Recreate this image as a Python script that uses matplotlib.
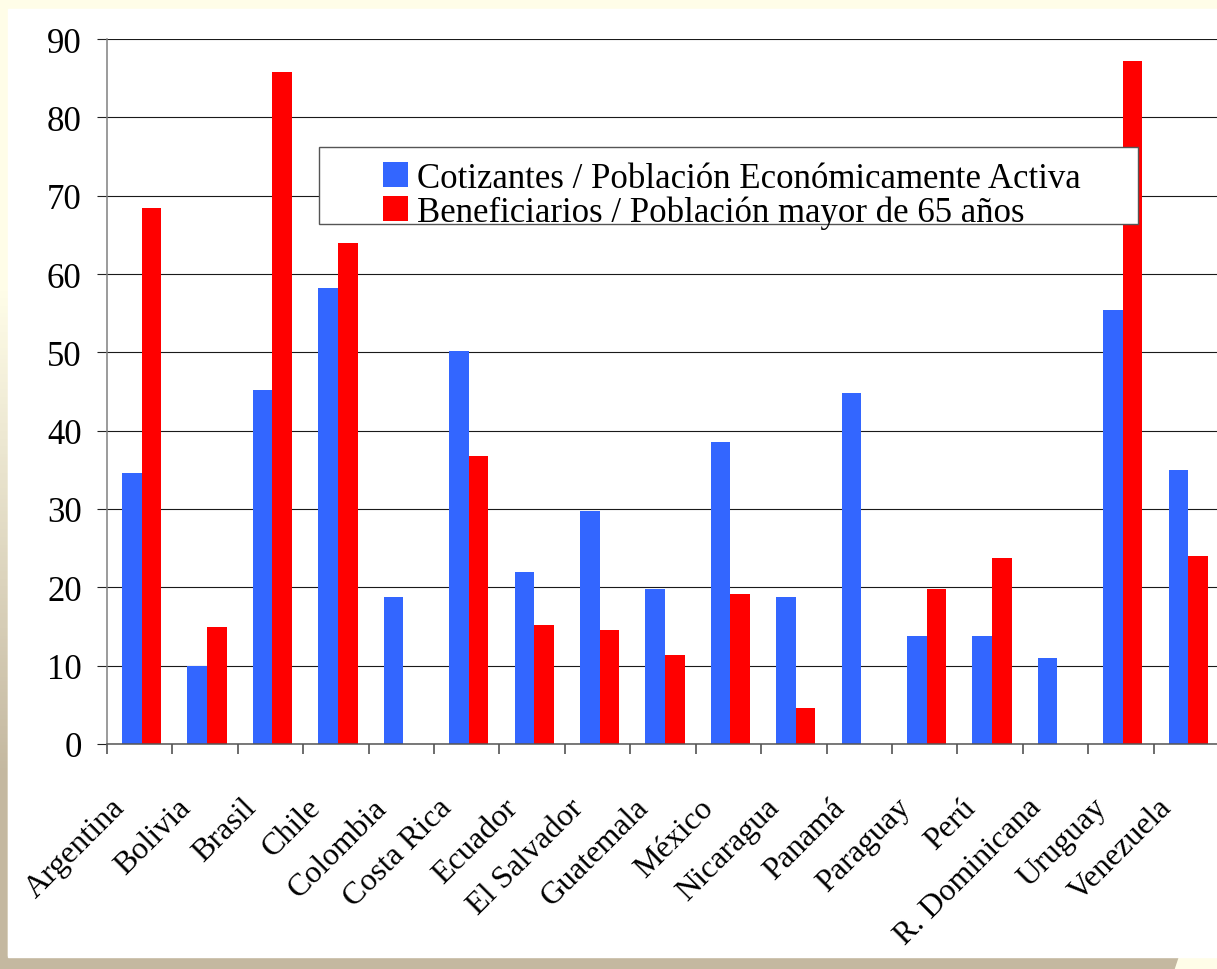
#!/usr/bin/env python3
"""
Cobertura de los sistemas de pensiones en America Latina.

Bar chart comparing contributors over the economically active population
with beneficiaries over the population older than 65 years, per country.
"""

import matplotlib
matplotlib.use("Agg")
import matplotlib.pyplot as plt
import numpy as np
from matplotlib.colors import LinearSegmentedColormap
from matplotlib.patches import Polygon, Rectangle
from matplotlib.transforms import ScaledTranslation

COUNTRIES = [
    "Argentina", "Bolivia", "Brasil", "Chile", "Colombia", "Costa Rica",
    "Ecuador", "El Salvador", "Guatemala", "México", "Nicaragua", "Panamá",
    "Paraguay", "Perú", "R. Dominicana", "Uruguay", "Venezuela",
]
"""Countries on the x axis, in the order of the reference chart."""

COTIZANTES = [
    34.6, 10.0, 45.2, 58.2, 18.8, 50.2, 22.0, 29.7, 19.8,
    38.6, 18.8, 44.8, 13.8, 13.8, 11.0, 55.4, 35.0,
]
"""Cotizantes / Poblacion Economicamente Activa (%)."""

BENEFICIARIOS = [
    68.4, 14.9, 85.8, 64.0, None, 36.8, 15.2, 14.6, 11.4,
    19.1, 4.6, None, 19.8, 23.7, None, 87.2, 24.0,
]
"""Beneficiarios / Poblacion mayor de 65 anos (%), None where no data."""

SERIES_LABELS = [
    "Cotizantes / Población Económicamente Activa",
    "Beneficiarios / Población mayor de 65 años",
]
Y_TICKS = list(range(0, 91, 10))

W, H = 1217, 970
BLUE = "#3366FF"
RED = "#FF0000"
CREAM = "#FFFDE8"
TAN = "#C4B8A0"
FONT = ["Liberation Serif", "DejaVu Serif"]


def main():
    """Build the figure and save it as out.png."""
    fig = plt.figure(figsize=(W / 100, H / 100), dpi=100)
    draw_background(fig)
    draw_bars(fig)
    fig.savefig("out.png", dpi=100)


def draw_background(fig):
    """Slide style background: cream, tan bands and a white panel."""
    bg = fig.add_axes([0, 0, 1, 1], zorder=-10)
    bg.axis("off")

    #   Left strip fades from cream to tan.
    cmap = LinearSegmentedColormap.from_list(
        "strip", [(0, CREAM), (0.3, CREAM), (0.8, TAN), (1, TAN)])
    grad = np.linspace(0, 1, 256)[:, None]
    bg.imshow(grad, extent=(0, 8, H, 0), cmap=cmap, aspect="auto")

    bg.add_patch(Rectangle((8, 0), W, H, color=CREAM, zorder=0))
    bg.add_patch(Polygon([(0, 958), (1178, 958), (1174, H), (0, H)],
                         color=TAN, zorder=1))
    bg.add_patch(Rectangle((8, 10), W - 8, 948, color="white", zorder=2))
    bg.set_xlim(0, W)
    bg.set_ylim(H, 0)


def draw_bars(fig):
    """Draw the grouped bars, axes and legend."""
    ax = fig.add_axes([107 / W, (H - 745) / H, (1219 - 107) / W, 705 / H])
    ax.patch.set_visible(False)

    x = np.arange(len(COUNTRIES))
    benef = np.array([np.nan if v is None else v for v in BENEFICIARIOS])
    width = 0.3
    b1 = ax.bar(x - 0.12, COTIZANTES, width, color=BLUE, zorder=2)
    b2 = ax.bar(x + 0.18, benef, width, color=RED, zorder=2)

    ax.set_xlim(-0.5, len(COUNTRIES) - 0.5)
    ax.set_ylim(0, 90)
    ax.set_yticks(Y_TICKS)
    ax.set_yticklabels([str(t) for t in Y_TICKS], family=FONT, fontsize=25)
    ax.tick_params(axis="y", length=7.2, width=0.8, color="#222222", pad=11)
    ax.yaxis.grid(True, color="#1a1a1a", lw=0.8, zorder=1)
    ax.set_axisbelow(True)

    #   Tick marks sit between groups, labels sit under each group.
    ax.set_xticks(np.arange(-0.5, len(COUNTRIES), 1))
    ax.set_xticklabels([])
    ax.set_xticks(x, minor=True)
    ax.set_xticklabels(COUNTRIES, minor=True, family=FONT, fontsize=23)
    ax.tick_params(axis="x", which="major", length=7.2, width=1.1,
                   color="#444444")
    ax.tick_params(axis="x", which="minor", length=0, pad=0)
    offset = ScaledTranslation(-0.19, -0.59, fig.dpi_scale_trans)
    for label in ax.get_xticklabels(minor=True):
        label.set_rotation(45)
        label.set_rotation_mode("anchor")
        label.set_ha("right")
        label.set_va("center")
        label.set_transform(label.get_transform() + offset)

    for side in ("top", "right"):
        ax.spines[side].set_visible(False)
    ax.spines["left"].set_color("#808080")
    ax.spines["left"].set_linewidth(1.1)
    ax.spines["bottom"].set_color("#555555")
    ax.spines["bottom"].set_linewidth(1.1)

    #   White legend box that hides the bars behind it.
    ax.add_patch(Rectangle((319 / W, (H - 225) / H), 819 / W, 77 / H,
                           transform=fig.transFigure, facecolor="white",
                           edgecolor="#555555", lw=1, zorder=4,
                           clip_on=False))
    leg = ax.legend([b1, b2], SERIES_LABELS, loc="upper left",
                    bbox_to_anchor=(383 / W, 1 - 163 / H),
                    bbox_transform=fig.transFigure, frameon=False,
                    borderpad=0, borderaxespad=0, handlelength=0.72,
                    handleheight=0.72, handletextpad=0.25, labelspacing=0.0,
                    prop={"family": FONT, "size": 25})
    leg.set_zorder(5)


if __name__ == "__main__":
    main()
